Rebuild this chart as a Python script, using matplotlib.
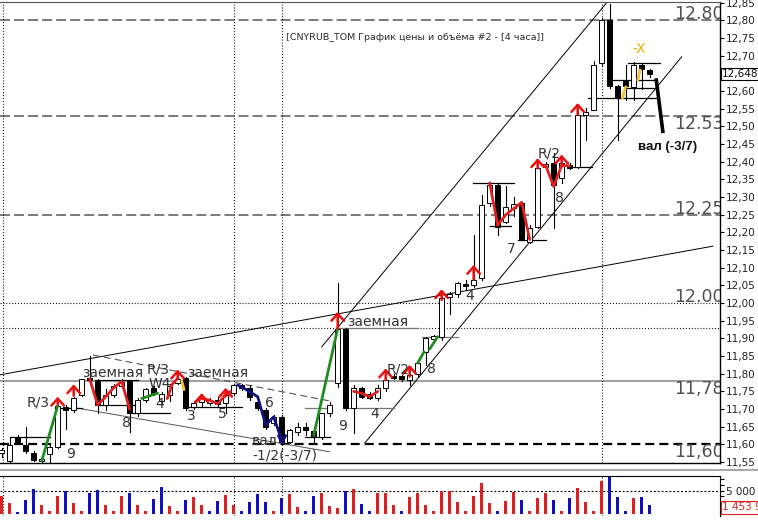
import numpy as np
import matplotlib
matplotlib.use("Agg")
import matplotlib.pyplot as plt
from matplotlib.lines import Line2D

plt.rcParams['lines.scale_dashes'] = False
plt.rcParams['font.family'] = ['DejaVu Sans']

###########################################################
# DATA - CNYRUB_TOM, 4 hour candles
###########################################################
opens = [11.575, 11.552, 11.620, 11.598, 11.576, 11.552, 11.573, 11.592, 11.707, 11.697,
         11.740, 11.787, 11.782, 11.712, 11.740, 11.765, 11.780, 11.688, 11.726, 11.759,
         11.722, 11.740, 11.773, 11.787, 11.705, 11.719, 11.716, 11.727, 11.718, 11.745,
         11.768, 11.761, 11.721, 11.697, 11.660, 11.678, 11.608, 11.636, 11.650, 11.639,
         11.622, 11.688, 11.773, 11.928, 11.702, 11.759, 11.743, 11.730, 11.759, 11.794,
         11.794, 11.782, 11.799, 11.862, 11.897, 11.903, 12.017, 12.026, 12.054, 12.052,
         12.070, 12.282, 12.334, 12.230, 12.268, 12.282, 12.174, 12.215, 12.384, 12.396,
         12.353, 12.391, 12.386, 12.533, 12.547, 12.679, 12.801, 12.613, 12.629, 12.611,
         12.674, 12.660]
highs = [11.590, 11.617, 11.626, 11.650, 11.580, 11.562, 11.604, 11.712, 11.712, 11.735,
         11.786, 11.850, 11.784, 11.756, 11.770, 11.785, 11.782, 11.730, 11.760, 11.765,
         11.748, 11.770, 11.801, 11.792, 11.720, 11.742, 11.730, 11.734, 11.754, 11.772,
         11.772, 11.768, 11.730, 11.702, 11.682, 11.683, 11.645, 11.660, 11.660, 11.642,
         11.690, 11.720, 12.056, 11.930, 11.768, 11.763, 11.748, 11.768, 11.792, 11.798,
         11.796, 11.806, 11.833, 11.905, 11.910, 12.018, 12.032, 12.060, 12.065, 12.193,
         12.306, 12.344, 12.339, 12.330, 12.300, 12.287, 12.221, 12.386, 12.398, 12.424,
         12.400, 12.395, 12.540, 12.551, 12.685, 12.806, 12.845, 12.618, 12.674, 12.682,
         12.680, 12.662]
lows = [11.565, 11.550, 11.600, 11.575, 11.552, 11.548, 11.550, 11.589, 11.645, 11.692,
        11.738, 11.780, 11.690, 11.697, 11.735, 11.760, 11.636, 11.680, 11.720, 11.740,
        11.715, 11.722, 11.770, 11.697, 11.700, 11.710, 11.712, 11.705, 11.688, 11.740,
        11.755, 11.726, 11.697, 11.645, 11.655, 11.603, 11.605, 11.627, 11.627, 11.603,
        11.615, 11.680, 11.763, 11.697, 11.632, 11.730, 11.728, 11.725, 11.750, 11.785,
        11.780, 11.768, 11.795, 11.825, 11.893, 11.895, 11.970, 12.018, 12.038, 12.046,
        12.066, 12.274, 12.193, 12.226, 12.245, 12.179, 12.170, 12.212, 12.380, 12.212,
        12.339, 12.380, 12.383, 12.462, 12.545, 12.675, 12.608, 12.462, 12.575, 12.575,
        12.605, 12.640]
closes = [11.585, 11.598, 11.605, 11.580, 11.555, 11.560, 11.592, 11.709, 11.697, 11.730,
          11.784, 11.782, 11.712, 11.740, 11.765, 11.778, 11.688, 11.726, 11.756, 11.745,
          11.742, 11.765, 11.784, 11.702, 11.716, 11.729, 11.726, 11.714, 11.740, 11.768,
          11.759, 11.735, 11.702, 11.650, 11.677, 11.608, 11.641, 11.650, 11.641, 11.622,
          11.688, 11.711, 11.928, 11.702, 11.759, 11.735, 11.730, 11.761, 11.782, 11.787,
          11.784, 11.796, 11.829, 11.900, 11.907, 12.013, 12.026, 12.056, 12.047, 12.066,
          12.278, 12.334, 12.216, 12.273, 12.280, 12.181, 12.212, 12.381, 12.394, 12.334,
          12.396, 12.383, 12.533, 12.542, 12.674, 12.801, 12.613, 12.580, 12.615, 12.674,
          12.662, 12.648]

# volume in millions, r = red bar, b = blue bar
volumes = [3.86, 2.43, 0.50, 3.00, 5.43, 1.86, 0.57, 3.79, 4.93, 2.43,
           0.57, 4.57, 5.21, 1.86, 0.57, 3.79, 4.57, 1.86, 0.57, 3.14,
           5.86, 1.71, 0.57, 3.00, 3.57, 1.93, 0.57, 2.79, 4.00, 1.86,
           0.57, 2.64, 4.21, 2.64, 0.57, 3.36, 4.21, 1.50, 0.57, 3.86,
           4.50, 1.71, 1.29, 5.00, 5.29, 2.14, 0.57, 4.57, 4.43, 2.00,
           0.57, 3.71, 4.43, 2.00, 0.57, 5.00, 5.00, 2.50, 0.57, 3.86,
           6.57, 2.29, 0.71, 2.86, 4.79, 3.00, 0.57, 3.43, 4.43, 3.00,
           0.57, 3.43, 5.50, 2.50, 0.71, 7.07, 8.00, 3.71, 0.57, 3.43,
           3.57, 1.93]
vol_colors = list("rrbbbrrrbr" "rbbrrrbrrb" "brrbrrbbrr" "bbbbrbrrbb"
                  "rrrbrbbrrr" "brrrrrrrrr" "rrbrrbrrrb" "rbrrrrbbbr" "bb")

price_ticks = [11.55, 11.60, 11.65, 11.70, 11.75, 11.80, 11.85, 11.90, 11.95, 12.00,
               12.05, 12.10, 12.15, 12.20, 12.25, 12.30, 12.35, 12.40, 12.45, 12.50,
               12.55, 12.60, 12.65, 12.70, 12.75, 12.80, 12.85]
last_price = 12.648
last_volume_label = "1 453 9"

# day separators (bar index)
day_lines = [0.13, 29.1, 35.1, 75.05]

# big grey level labels: text, price, above/below the line
level_labels = [("12.80", 12.80, 1), ("12.53", 12.53, -1), ("12.25", 12.25, 1),
                ("12.00", 12.00, 1), ("11,78", 11.78, -1), ("11,60", 11.60, -1)]

# trend lines: (index0, price0, index1, price1)
trend_lines = [(-0.2, 11.797, 88.9, 12.161),
               (40.0, 11.876, 75.7, 12.852),
               (45.4, 11.604, 85.0, 12.697)]
fan_lines = [(11.4, 11.853, 41.0, 11.723),
             (9.4, 11.703, 41.0, 11.579)]

# short level segments: (index0, index1, price, colour)
segments = [(1.0, 6.0, 11.620, 'k'), (7.3, 10.0, 11.702, 'k'),
            (12.0, 17.0, 11.782, 'k'), (12.0, 17.0, 11.712, 'k'),
            (16.2, 21.0, 11.688, 'k'), (23.0, 30.0, 11.707, 'k'),
            (37.9, 41.2, 11.702, '#777777'), (37.9, 41.0, 11.622, 'k'),
            (42.0, 52.0, 11.930, '#777777'), (43.0, 49.0, 11.702, '#777777'),
            (52.5, 57.0, 11.903, '#777777'), (58.9, 64.1, 12.339, 'k'),
            (61.0, 63.7, 12.217, 'k'), (64.6, 68.0, 12.179, 'k'),
            (71.3, 73.8, 12.386, 'k'), (73.3, 82.0, 12.580, 'k'),
            (76.3, 81.5, 12.632, 'k'), (78.0, 81.5, 12.608, 'k'),
            (78.3, 82.3, 12.679, 'k')]

# wave lines drawn over the candles
wave_lines = [('#1e8c1e', [5, 7], [11.553, 11.709]),
              ('#1e8c1e', [39, 42], [11.625, 11.928]),
              ('#1e8c1e', [17.5, 19.5], [11.730, 11.745]),
              ('#1e8c1e', [52, 52.8], [11.830, 11.862]),
              ('#1e8c1e', [53.5, 54.5], [11.870, 11.905]),
              ('#e02020', [11, 12, 13, 14, 15, 16], [11.785, 11.712, 11.735, 11.760, 11.778, 11.700]),
              ('#e02020', [20.7, 21.3, 22], [11.730, 11.770, 11.787]),
              ('#e02020', [24.2, 25, 26, 27, 28, 28.6], [11.720, 11.730, 11.725, 11.715, 11.740, 11.750]),
              ('#e02020', [44, 45, 46, 47], [11.750, 11.745, 11.735, 11.750]),
              ('#e02020', [61, 62, 63, 65, 66], [12.340, 12.220, 12.250, 12.285, 12.180]),
              ('#e02020', [68, 69, 70, 71], [12.390, 12.330, 12.390, 12.388]),
              ('#101080', [29.5, 30, 32, 33, 34, 35], [11.768, 11.763, 11.735, 11.655, 11.678, 11.612]),
              ('#101080', [34.6, 35, 35.5], [11.625, 11.605, 11.625]),
              ('#f0c030', [22.5, 22.8], [11.780, 11.755]),
              ('#f0c030', [77.6, 78.0], [12.580, 12.612]),
              ('#f0c030', [79.5, 79.8], [12.630, 12.660])]

# red arrows: index, base, tip
arrows = [(7, 11.712, 11.735), (9, 11.738, 11.770), (22, 11.785, 11.812),
          (25, 11.730, 11.745), (28, 11.736, 11.760), (42, 11.928, 11.975),
          (48, 11.782, 11.815), (51, 11.792, 11.825), (55, 12.009, 12.039),
          (59, 12.066, 12.108), (67, 12.381, 12.410), (70, 12.386, 12.420),
          (72, 12.533, 12.566)]

# text marks: text, index, price (left, baseline)
marks = [("R/3", 3.16, 11.706), ("заемная", 10.04, 11.791), ("R/3", 18.16, 11.802),
         ("W4", 18.3, 11.760), ("заемная", 23.2, 11.791), ("8", 15.04, 11.649),
         ("4", 19.16, 11.703), ("3", 23.16, 11.669), ("5", 27.04, 11.675),
         ("9", 8.04, 11.561), ("6", 32.9, 11.706), ("вал", 31.3, 11.598),
         ("-1/2(-3/7)", 31.3, 11.556), ("9", 42.04, 11.640), ("заемная", 43.2, 11.934),
         ("4", 46.04, 11.675), ("R/2", 48.16, 11.802), ("8", 53.16, 11.802),
         ("4", 57.9, 12.008), ("7", 63.2, 12.141), ("R/2", 67.0, 12.413),
         ("8", 69.2, 12.286)]

# forecast stroke after the last bar
forecast = ([81.8, 82.67], [12.636, 12.481])

###########################################################
# FIGURE
###########################################################
fig = plt.figure(figsize=(7.58, 5.20), dpi=100)
ax = fig.add_axes([0, 57 / 520, 720 / 758, 461 / 520])
axv = fig.add_axes([0, 4 / 520, 720 / 758, 40 / 520])

n = len(opens)
x = np.arange(n)
xmin, xmax = -0.2125, 89.79

#price panel grid lines
for p in [12.80, 12.53, 12.25]:
    ax.axhline(p, color='#707070', lw=1.3, dashes=(7.2, 2.9), zorder=1)
for p in [12.00, 11.93]:
    ax.axhline(p, color='k', lw=0.8, dashes=(0.7, 1.4), zorder=1)
ax.axhline(11.78, color='#8c8c8c', lw=1.2, zorder=1)
ax.axhline(11.60, color='k', lw=1.6, dashes=(6.5, 3.6), zorder=1)
for d in day_lines:
    ax.axvline(d, color='k', lw=0.8, dashes=(0.7, 1.4), zorder=1)
    axv.axvline(d, color='k', lw=0.8, dashes=(0.7, 1.4), zorder=1)

#trend lines
for a0, p0, a1, p1 in trend_lines:
    ax.plot([a0, a1], [p0, p1], color='k', lw=0.7, zorder=2)
ax.plot(fan_lines[0][::2], fan_lines[0][1::2], color='#555555', lw=0.8, dashes=(5, 3), zorder=2)
ax.plot(fan_lines[1][::2], fan_lines[1][1::2], color='#555555', lw=0.7, zorder=2)
for a0, a1, p, c in segments:
    ax.plot([a0, a1], [p, p], color=c, lw=0.9, zorder=2)

#candles
for i in range(n):
    o, h, l, c = opens[i], highs[i], lows[i], closes[i]
    ax.plot([i, i], [l, h], color='k', lw=0.8, zorder=3)
    bottom = min(o, c)
    height = max(abs(c - o), 0.004)
    fc = 'white' if c >= o else 'black'
    ax.bar(i, height, bottom=bottom, width=0.62, color=fc, edgecolor='k', lw=0.7, zorder=3)

#wave lines
for col, xs, ys in wave_lines:
    ax.plot(xs, ys, color=col, lw=2.0, solid_capstyle='round', zorder=4)
ax.plot(forecast[0], forecast[1], color='k', lw=2.6, solid_capstyle='butt', zorder=4)

#red arrows
for i, b, t in arrows:
    ax.annotate('', xy=(i, t), xytext=(i, b),
                arrowprops=dict(arrowstyle='->,head_width=0.45,head_length=0.5',
                                color='#e81010', lw=1.8, shrinkA=0, shrinkB=0), zorder=5)

#text marks
for s, i, p in marks:
    ax.text(i, p, s, fontsize=10, color='#333333', ha='left', va='baseline', zorder=6)
ax.text(78.8, 12.708, "-X", fontsize=10, color='#f0b000', ha='left', va='baseline', zorder=6)
ax.text(79.5, 12.433, "вал (-3/7)", fontsize=9.5, fontweight='bold', family='Liberation Sans',
        color='#111111', ha='left', va='baseline', zorder=6)

#big level labels, clipped by the right edge
for s, p, side in level_labels:
    yy = p + 0.003 if side > 0 else p - 0.037
    ax.text(90.2, yy, s, fontsize=12.5, color='#505050', ha='right', va='baseline',
            clip_on=True, zorder=6)

ax.text(35.6, 12.745, "[CNYRUB_TOM График цены и объёма #2 - [4 часа]]",
        fontsize=6.8, color='#2b2b2b', ha='left', va='baseline', zorder=6)

ax.set_xlim(xmin, xmax)
ax.set_ylim(11.5474, 12.852)
ax.yaxis.tick_right()
ax.set_yticks(price_ticks)
ax.set_yticklabels(['' if abs(t - 12.65) < 1e-6 else ('%.2f' % t).replace('.', ',') for t in price_ticks])
ax.tick_params(axis='y', direction='out', length=3, width=0.8, pad=1.5, labelsize=7.5,
               labelcolor='#222222')
ax.set_xticks([])
ax.spines['left'].set_visible(False)
ax.spines['top'].set_color('#555555')
for s in ['right', 'bottom']:
    ax.spines[s].set_linewidth(1.0)

ax.text(90.05, last_price, ('%.3f' % last_price).replace('.', ','), fontsize=7.5,
        color='#111111', ha='left', va='center', clip_on=False,
        bbox=dict(fc='white', ec='k', lw=0.8, pad=1.0), zorder=7)

###########################################################
# VOLUME PANEL
###########################################################
bar_cols = ['#e02020' if c == 'r' else '#1010c0' for c in vol_colors]
axv.bar(x, volumes, width=0.32, color=bar_cols, zorder=3)
axv.axhline(5, color='k', lw=0.8, dashes=(1.4, 1.4), zorder=1)
axv.set_xlim(xmin, xmax)
axv.set_ylim(-0.43, 8.14)
axv.yaxis.tick_right()
axv.set_yticks([5])
axv.set_yticklabels(['5 000 000'])
axv.set_yticks([1.25, 2.5, 3.75, 6.25, 7.5], minor=True)
axv.tick_params(axis='y', which='both', direction='out', length=3, width=0.8, pad=1.5,
                labelsize=7.5, labelcolor='#222222')
axv.set_xticks([])
axv.spines['left'].set_visible(False)
axv.spines['bottom'].set_visible(False)
axv.text(90.05, 1.45, last_volume_label, fontsize=7.5, color='#e02020', ha='left',
         va='center', clip_on=False, bbox=dict(fc='white', ec='#e02020', lw=0.8, pad=1.0))

#grey separator between the panels
fig.add_artist(Line2D([0, 1], [50 / 520, 50 / 520], color='#a8a8a8', lw=1.5,
                      transform=fig.transFigure))

fig.savefig("out.png", dpi=100)
